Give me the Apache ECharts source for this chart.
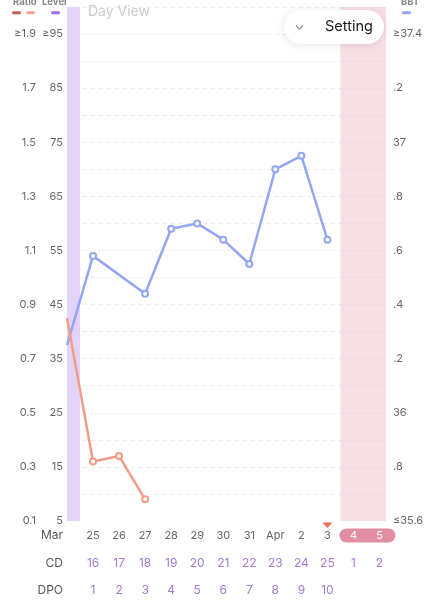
<!DOCTYPE html>
<html>
<head>
<meta charset="utf-8">
<title>Day View</title>
<script src="https://cdn.jsdelivr.net/npm/echarts@6/dist/echarts.min.js"></script>
<style>
  html, body { margin: 0; padding: 0; background: #fff; }
  #chart { width: 431px; height: 600px; }
</style>
</head>
<body>
<div id="chart"></div>
<script>
// x position: 0 = Mar 25 ... 11 = Apr 5 (-1 = Mar 24, cut off at the left edge)
const dateLabels = ['25', '26', '27', '28', '29', '30', '31', 'Apr', '2', '3', '4', '5'];
const cdLabels = ['16', '17', '18', '19', '20', '21', '22', '23', '24', '25', '1', '2'];
const dpoLabels = ['1', '2', '3', '4', '5', '6', '7', '8', '9', '10', '', ''];
const periodDays = [10, 11]; // labels drawn on the pink pill
const todayIndex = 9;        // red triangle marker

// BBT (right axis, °C)
const bbtDays = [-1, 0, 2, 3, 4, 5, 6, 7, 8, 9];
const bbtValues = [36.25, 36.58, 36.44, 36.68, 36.70, 36.64, 36.55, 36.90, 36.95, 36.64];

// Ratio (left axis)
const ratioDays = [-1, 0, 1, 2];
const ratioValues = [0.85, 0.32, 0.34, 0.18];

// shaded bands [from, to] in day positions
const fertileBand = [-1, -0.5];
const periodBand = [9.5, 11.25];

const X_MIN = -1, X_MAX = 11.25;
const FONT = 'Inter, Roboto, sans-serif';

const chart = echarts.init(document.getElementById('chart'));

// build [x, y] pairs, first point hidden (it lies on the clipped edge)
function toPoints(days, values) {
  return days.map((d, i) => d < 0 ? { value: [d, values[i]], symbol: 'none' } : [d, values[i]]);
}

function dayLabel(list, rich) {
  return function (v) {
    const i = Math.round(v);
    if (Math.abs(v - i) > 0.001 || i < 0 || i >= list.length) return '';
    if (rich && periodDays.indexOf(i) >= 0) return '{w|' + list[i] + '}';
    return list[i];
  };
}

function makeXAxis(offset, name, list, color, size, rich) {
  return {
    type: 'value', min: X_MIN, max: X_MAX, interval: 1,
    position: 'bottom', offset: offset, z: 10,
    name: name, nameLocation: 'start', nameGap: 4,
    nameTextStyle: { color: '#555', fontSize: 12, verticalAlign: 'middle', align: 'right', fontFamily: FONT },
    axisLine: { show: false }, axisTick: { show: false }, splitLine: { show: false },
    axisLabel: {
      margin: 0, verticalAlign: 'middle', color: color, fontSize: size, fontFamily: FONT,
      formatter: dayLabel(list, rich),
      rich: { w: { color: '#fff', fontSize: size, fontFamily: FONT } }
    }
  };
}

const option = {
  animation: false,
  grid: { left: 67, right: 45, top: 7, bottom: 79, outerBoundsMode: 'none' },
  xAxis: [
    makeXAxis(14.5, 'Mar', dateLabels, '#666', 11, true),
    makeXAxis(42, 'CD', cdLabels, '#a47ad6', 12, false),
    makeXAxis(69, 'DPO', dpoLabels, '#a47ad6', 12, false)
  ],
  yAxis: [
    {
      type: 'value', position: 'left', min: 0.1, max: 2.0, interval: 0.2,
      axisLine: { show: false }, axisTick: { show: false }, splitLine: { show: false },
      axisLabel: {
        margin: 31, color: '#666', fontSize: 11, fontFamily: FONT, padding: [0, 0, 6, 0],
        formatter: v => {
          if (v > 1.95) return '';
          return Math.abs(v - 1.9) < 0.001 ? '≥1.9' : v.toFixed(1);
        }
      }
    },
    {
      type: 'value', position: 'left', min: 5, max: 100, interval: 10,
      axisLine: { show: false }, axisTick: { show: false }, splitLine: { show: false },
      axisLabel: {
        margin: 4, color: '#666', fontSize: 11, fontFamily: FONT, padding: [0, 0, 6, 0],
        formatter: v => {
          if (v > 97) return '';
          return v === 95 ? '≥95' : String(v);
        }
      }
    },
    {
      type: 'value', position: 'right', min: 35.6, max: 37.5, interval: 0.1,
      axisLine: { show: false }, axisTick: { show: false },
      splitLine: { show: true, showMinLine: false, lineStyle: { color: '#ebebeb', type: [4, 4], width: 1 } },
      axisLabel: {
        margin: 7, color: '#666', fontSize: 11, fontFamily: FONT, padding: [0, 0, 6, 0],
        formatter: v => {
          const k = Math.round((v - 35.6) * 10);
          if (k % 2 !== 0 || k > 18) return '';
          if (k === 18) return '≥37.4';
          if (k === 0) return '≤35.6';
          const t = (35.6 + k / 10).toFixed(1);
          return t.endsWith('.0') ? t.slice(0, -2) : '.' + t.split('.')[1];
        }
      }
    }
  ],
  series: [
    {
      name: 'BBT', type: 'line', xAxisIndex: 0, yAxisIndex: 2,
      data: toPoints(bbtDays, bbtValues),
      symbol: 'emptyCircle', symbolSize: 6,
      lineStyle: { color: '#93a6f5', width: 2.5 },
      itemStyle: { color: '#93a6f5', borderWidth: 1.5 },
      z: 3,
      markArea: {
        silent: true,
        data: [
          [{ xAxis: fertileBand[0], itemStyle: { color: '#e3d3f8' } }, { xAxis: fertileBand[1] }],
          [{ xAxis: periodBand[0], itemStyle: { color: 'rgba(242,190,204,0.5)' } }, { xAxis: periodBand[1] }]
        ]
      }
    },
    {
      name: 'Ratio', type: 'line', xAxisIndex: 0, yAxisIndex: 0,
      data: toPoints(ratioDays, ratioValues),
      symbol: 'emptyCircle', symbolSize: 6,
      lineStyle: { color: '#f29c88', width: 2.5 },
      itemStyle: { color: '#f29c88', borderWidth: 1.5 },
      z: 3
    }
  ]
};

chart.setOption(option);

// overlay pieces placed from the axis scale (convertToPixel on one axis gives a number)
const xFirst = chart.convertToPixel({ xAxisIndex: 0 }, periodDays[0]);
const xLast = chart.convertToPixel({ xAxisIndex: 0 }, periodDays[periodDays.length - 1]);
const xToday = chart.convertToPixel({ xAxisIndex: 0 }, todayIndex);

chart.setOption({
  graphic: [
    // header captions
    { type: 'text', left: 13, top: -3, style: { text: 'Ratio', fill: '#888', font: 'bold 9.5px ' + FONT } },
    { type: 'text', left: 42, top: -3, style: { text: 'Level', fill: '#888', font: 'bold 9.5px ' + FONT } },
    { type: 'text', left: 401, top: -3, style: { text: 'BBT', fill: '#888', font: 'bold 9.5px ' + FONT } },
    { type: 'rect', shape: { x: 12, y: 11.3, width: 9, height: 3, r: 1.5 }, style: { fill: '#c55a55' } },
    { type: 'rect', shape: { x: 26, y: 11.3, width: 9, height: 3, r: 1.5 }, style: { fill: '#f2a390' } },
    { type: 'rect', shape: { x: 51, y: 11.3, width: 9, height: 3, r: 1.5 }, style: { fill: '#9b6cf0' } },
    { type: 'rect', shape: { x: 402, y: 11.3, width: 9, height: 3, r: 1.5 }, style: { fill: '#93a6f5' } },
    { type: 'text', left: 88, top: 5, style: { text: 'Day View', fill: '#cccccc', font: '14px ' + FONT } },
    // Setting button
    {
      type: 'rect', z: 20,
      shape: { x: 284, y: 10, width: 100, height: 34, r: 17 },
      style: { fill: '#fff', shadowBlur: 10, shadowColor: 'rgba(0,0,0,0.10)', shadowOffsetY: 1 }
    },
    {
      type: 'polyline', z: 21,
      shape: { points: [[296, 25.5], [299.5, 29], [303, 25.5]] },
      style: { stroke: '#999', lineWidth: 1.3, fill: null }
    },
    { type: 'text', z: 21, left: 325, top: 19, style: { text: 'Setting', fill: '#1a1a1a', font: '14.5px ' + FONT } },
    // period pill under the date labels 4, 5
    {
      type: 'rect', z: 1,
      shape: { x: xFirst - 14, y: 528.5, width: xLast - xFirst + 30, height: 14, r: 7 },
      style: { fill: '#e28ea3' }
    },
    // today marker
    {
      type: 'polygon', z: 1,
      shape: { points: [[xToday - 5, 522.5], [xToday + 5, 522.5], [xToday, 528]] },
      style: { fill: '#f26f55' }
    }
  ]
});
</script>
</body>
</html>
